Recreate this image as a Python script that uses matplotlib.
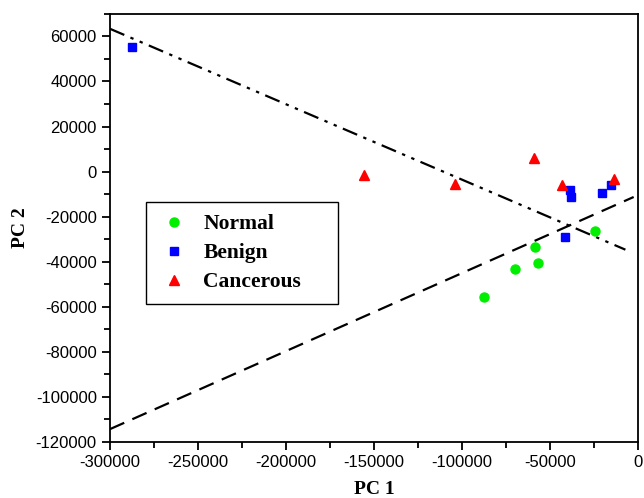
import matplotlib.pyplot as plt
from matplotlib.ticker import MultipleLocator

plt.rcParams['axes.unicode_minus'] = False

# PCA scores
normal_x = [-87300, -70100, -58500, -56800, -24600]
normal_y = [-55500, -43100, -33300, -40700, -26400]
benign_x = [-287300, -41500, -38700, -38300, -20700, -15400]
benign_y = [55500, -29200, -8000, -11300, -9400, -6100]
cancer_x = [-155500, -104200, -59300, -43400, -13500]
cancer_y = [-1700, -5700, 6200, -6100, -3500]

# separating lines (end points)
line1_x = [-300000, -7200]
line1_y = [63400, -34700]
line2_x = [-300000, -2500]
line2_y = [-114400, -11300]

fig = plt.figure(figsize=(6.44, 4.98), dpi=100)
ax = fig.add_axes([0.1708, 0.113, 0.82, 0.859])

ax.plot(line1_x, line1_y, color='black', lw=1.6, dashes=(7, 3, 1.5, 3, 1.5, 3))
ax.plot(line2_x, line2_y, color='black', lw=1.6, dashes=(7, 4))

ax.plot(normal_x, normal_y, 'o', color='#00ee00', ms=6.5, mec='#00ee00', label='Normal', zorder=3)
ax.plot(benign_x, benign_y, 's', color='#0000ff', ms=5.8, mec='#0000ff', label='Benign', zorder=3)
ax.plot(cancer_x, cancer_y, '^', color='#ff0000', ms=7, mec='#ff0000', label='Cancerous', zorder=3)

ax.set_xlim(-300000, 0)
ax.set_ylim(-120000, 70000)
ax.xaxis.set_major_locator(MultipleLocator(50000))
ax.xaxis.set_minor_locator(MultipleLocator(25000))
ax.yaxis.set_minor_locator(MultipleLocator(10000))
ax.set_yticks([-120000, -100000, -80000, -60000, -40000, -20000, 0, 20000, 40000, 60000])
ax.tick_params(which='major', direction='out', length=6, width=1.3, labelsize=12)
ax.tick_params(which='minor', direction='out', length=4, width=1.3)
for lab in ax.get_xticklabels() + ax.get_yticklabels():
    lab.set_family('Liberation Sans')
for s in ax.spines.values():
    s.set_linewidth(1.3)

ax.set_xlabel('PC 1', family='Liberation Serif', fontweight='bold', fontsize=14, labelpad=8)
ax.set_ylabel('PC 2', family='Liberation Serif', fontweight='bold', fontsize=14, labelpad=5)

leg = ax.legend(loc='upper left', bbox_to_anchor=(0.069, 0.36, 0.362, 0.2), mode='expand',
                fancybox=False, edgecolor='black', framealpha=1, borderpad=0.55,
                labelspacing=0.42, handletextpad=0.6, handlelength=1.5, borderaxespad=0,
                prop={'family': 'Liberation Serif', 'weight': 'bold', 'size': 15.5})
leg.get_frame().set_linewidth(1.0)

fig.savefig('out.png', dpi=100)
